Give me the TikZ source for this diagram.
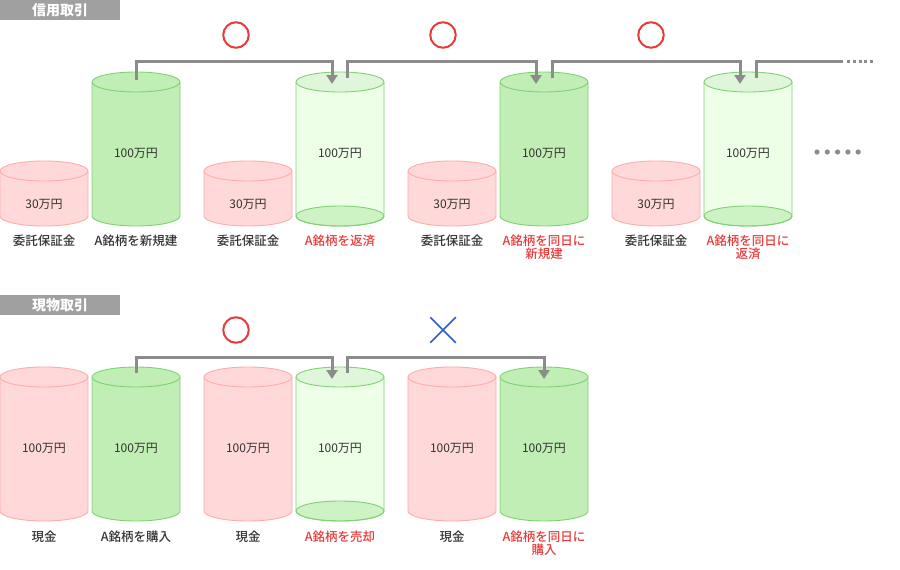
\documentclass[tikz,border=0pt]{standalone}
\usepackage{fontspec}
\setmainfont{Noto Sans CJK JP}
\newfontfamily\medium{Noto Sans CJK JP Medium}
\usepackage{tikz}
\usetikzlibrary{arrows.meta, calc, shapes.misc}

\definecolor{linegray}{HTML}{8C8C8C}
\definecolor{bargray}{HTML}{A0A0A0}
\definecolor{pinkfill}{HTML}{FFD9D9}
\definecolor{pinkline}{HTML}{FFABAB}
\definecolor{greenfill}{HTML}{C0EEB4}
\definecolor{greenline}{HTML}{7FD174}
\definecolor{palefill}{HTML}{EEFFE8}
\definecolor{palelid}{HTML}{E0F6DA}
\definecolor{palebase}{HTML}{CDF3C4}
\definecolor{alertred}{HTML}{E83A3A}
\definecolor{ngblue}{HTML}{2B5BD8}
\definecolor{textgray}{HTML}{333333}

\tikzset{
  pink body/.style={fill=pinkfill},
  pink base/.style={},
  pink edge/.style={draw=pinkline},
  pink lid/.style={fill=pinkfill, draw=pinkline},
  green body/.style={fill=greenfill},
  green base/.style={},
  green edge/.style={draw=greenline},
  green lid/.style={fill=greenfill, draw=greenline},
  pale body/.style={fill=palefill},
  pale base/.style={fill=palebase, draw=greenline},
  pale edge/.style={draw=greenline},
  pale lid/.style={fill=palelid, draw=greenline},
  bar/.style={rectangle, fill=bargray, minimum width=120pt, minimum height=20pt, inner sep=0pt, text=white, font=\fontsize{14}{16}\selectfont\bfseries},
  amount/.style={inner sep=0pt, text=textgray, font=\fontsize{12}{14}\selectfont},
  label/.style={inner sep=0pt, anchor=north, align=center, text=textgray, font=\fontsize{12.5}{13}\selectfont\medium},
  alert/.style={label, text=alertred},
  okmark/.style={circle, draw=alertred, line width=2pt, minimum size=25.5pt, inner sep=0pt},
  ngmark/.style={cross out, draw=ngblue, line width=1.5pt, minimum size=24pt, inner sep=0pt},
  rail/.style={draw=linegray, line width=3pt},
  arrow/.style={rail, -{Triangle[width=11pt, length=9pt]}},
}

% #1 name, #2 x, #3 top y, #4 bottom y, #5 kind
\newcommand{\drum}[5]{%
  \fill[#5 body] (#2-44,#3) -- (#2-44,#4) arc[start angle=180, end angle=360, x radius=44pt, y radius=10pt] -- (#2+44,#3) -- cycle;
  \path[#5 base, line width=0.9pt] (#2,#4) ellipse[x radius=44pt, y radius=10pt];
  \draw[#5 edge, line width=0.9pt] (#2-44,#3) -- (#2-44,#4) arc[start angle=180, end angle=360, x radius=44pt, y radius=10pt] -- (#2+44,#3);
  \path[#5 lid, line width=0.9pt] (#2,#3) ellipse[x radius=44pt, y radius=10pt];
  \coordinate (#1) at (#2,#3);
}

\begin{document}
\begin{tikzpicture}[x=1pt, y=-1pt]
  \useasboundingbox (0,0) rectangle (900,570);

  % 信用取引
  \node[bar] (credit) at (60,10) {信用取引};

  \drum{p1}{44}{171}{216}{pink}
  \drum{g1}{136}{82}{216}{green}
  \drum{p2}{248}{171}{216}{pink}
  \drum{g2}{340}{82}{216}{pale}
  \drum{p3}{452}{171}{216}{pink}
  \drum{g3}{544}{82}{216}{green}
  \drum{p4}{656}{171}{216}{pink}
  \drum{g4}{748}{82}{216}{pale}

  \node[amount] (m1) at (44,204) {30万円};
  \node[amount] (n1) at (136,153) {100万円};
  \node[amount] (m2) at (248,204) {30万円};
  \node[amount] (n2) at (340,153) {100万円};
  \node[amount] (m3) at (452,204) {30万円};
  \node[amount] (n3) at (544,153) {100万円};
  \node[amount] (m4) at (656,204) {30万円};
  \node[amount] (n4) at (748,153) {100万円};

  \node[label] (l1) at (44,234.5) {委託保証金};
  \node[label] (k1) at (136,234.5) {A銘柄を新規建};
  \node[label] (l2) at (248,234.5) {委託保証金};
  \node[alert] (k2) at (340,234.5) {A銘柄を返済};
  \node[label] (l3) at (452,234.5) {委託保証金};
  \node[alert] (k3) at (544,234.5) {A銘柄を同日に\\新規建};
  \node[label] (l4) at (656,234.5) {委託保証金};
  \node[alert] (k4) at (748,234.5) {A銘柄を同日に\\返済};

  \node[okmark] (ok1) at (236,35) {};
  \node[okmark] (ok2) at (443,35) {};
  \node[okmark] (ok3) at (651,35) {};

  \coordinate (railend) at (843,61);
  \coordinate (railmore) at (873,61);

  \draw[arrow] ($(g1)+(0,-2)$) -- ($(g1)+(0,-21)$) -| ($(g2)+(-8,2)$);
  \draw[arrow] ($(g2)+(7,-4)$) -- ($(g2)+(7,-21)$) -| ($(g3)+(-8,2)$);
  \draw[arrow] ($(g3)+(8,-4)$) -- ($(g3)+(8,-21)$) -| ($(g4)+(-8,2)$);
  \draw[rail] ($(g4)+(8,-4)$) -- ($(g4)+(8,-21)$) -- (railend);
  \draw[rail, dash pattern=on 3pt off 2.8pt] ($(railend)+(4,0)$) -- (railmore);

  \foreach \i in {0,...,4}
    \fill[linegray] (817+10.3*\i,152) circle[radius=2.6pt];

  % 現物取引
  \node[bar] (cash) at (60,305) {現物取引};

  \drum{q1}{44}{377}{511}{pink}
  \drum{b1}{136}{377}{511}{green}
  \drum{q2}{248}{377}{511}{pink}
  \drum{b2}{340}{377}{511}{pale}
  \drum{q3}{452}{377}{511}{pink}
  \drum{b3}{544}{377}{511}{green}

  \node[amount] (r1) at (44,448) {100万円};
  \node[amount] (s1) at (136,448) {100万円};
  \node[amount] (r2) at (248,448) {100万円};
  \node[amount] (s2) at (340,448) {100万円};
  \node[amount] (r3) at (452,448) {100万円};
  \node[amount] (s3) at (544,448) {100万円};

  \node[label] (c1) at (44,530.5) {現金};
  \node[label] (d1) at (136,530.5) {A銘柄を購入};
  \node[label] (c2) at (248,530.5) {現金};
  \node[alert] (d2) at (340,530.5) {A銘柄を売却};
  \node[label] (c3) at (452,530.5) {現金};
  \node[alert] (d3) at (544,530.5) {A銘柄を同日に\\購入};

  \node[okmark] (ok4) at (236,330) {};
  \node[ngmark] (ng1) at (443,330) {};

  \draw[arrow] ($(b1)+(0,-4)$) -- ($(b1)+(0,-20)$) -| ($(b2)+(-8,2)$);
  \draw[arrow] ($(b2)+(7,-4)$) -- ($(b2)+(7,-20)$) -| ($(b3)+(0,2)$);
\end{tikzpicture}
\end{document}
